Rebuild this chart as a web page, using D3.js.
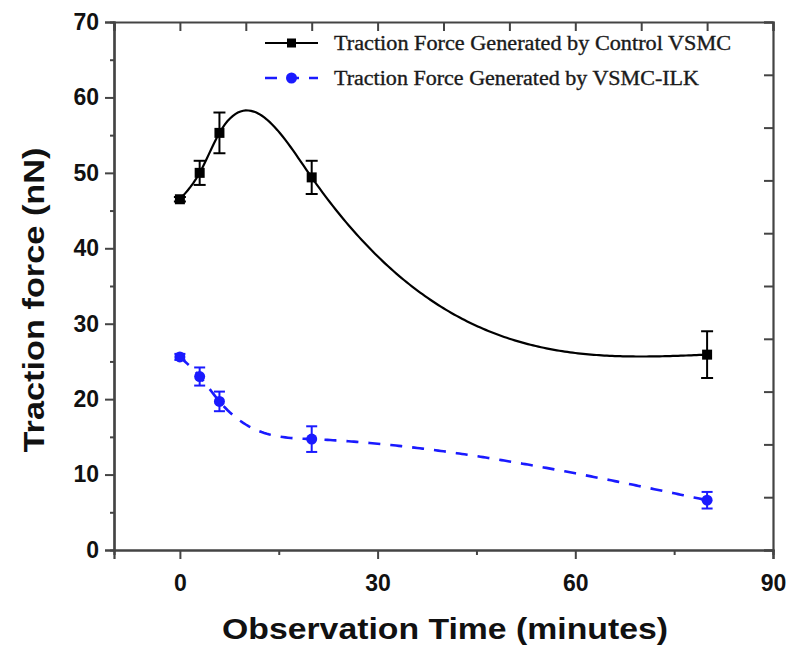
<!DOCTYPE html>
<html>
<head>
<meta charset="utf-8">
<script src="https://cdn.jsdelivr.net/npm/d3@7"></script>
<style>
  body { margin: 0; background: #fff; }
  .tick text { font-family: "Liberation Sans", Arial, sans-serif; font-weight: bold; font-size: 23px; fill: #111; }
  .axisTitle { font-family: "Liberation Sans", Arial, sans-serif; font-weight: bold; font-size: 29px; fill: #111; }
  .legendText { font-family: "Liberation Serif", "Times New Roman", serif; font-size: 20px; fill: #1a1a1a; stroke: #1a1a1a; stroke-width: 0.35px; }
</style>
</head>
<body>
<div id="chart"></div>
<script>
// Data
var times = [0, 3, 6, 20, 80];
var controlForce = [46.5, 50.0, 55.3, 49.4, 25.9];
var controlErr = [0.3, 1.6, 2.7, 2.2, 3.1];
var ilkForce = [25.6, 23.0, 19.7, 14.7, 6.6];
var ilkErr = [0.4, 1.2, 1.3, 1.7, 1.1];
var seriesNames = ["Traction Force Generated by Control VSMC", "Traction Force Generated by VSMC-ILK"];
var xTicks = [0, 30, 60, 90];
var yTicks = [0, 10, 20, 30, 40, 50, 60, 70];

var svgWidth = 795;
var svgHeight = 656;
var margin = { top: 22, right: 22, bottom: 106, left: 114 };
var chartWidth = svgWidth - margin.left - margin.right;
var chartHeight = svgHeight - margin.top - margin.bottom;

var svg = d3.select("#chart")
    .append("svg")
    .attr("width", svgWidth)
    .attr("height", svgHeight);

var chartGroup = svg.append("g")
    .attr("transform", `translate(${margin.left}, ${margin.top})`);

var x = d3.scaleLinear().domain([-10, 90]).range([0, chartWidth]);
var y = d3.scaleLinear().domain([0, 70]).range([chartHeight, 0]);

var axisColor = "#444";

// minor ticks first (no labels)
chartGroup.append("g")
    .attr("transform", `translate(0, ${chartHeight})`)
    .call(d3.axisBottom(x).tickValues([15, 45, 75]).tickSize(5).tickFormat(""));
chartGroup.append("g")
    .call(d3.axisLeft(y).tickValues([5, 15, 25, 35, 45, 55, 65]).tickSize(4).tickFormat(""));

// major ticks
chartGroup.append("g")
    .attr("transform", `translate(0, ${chartHeight})`)
    .call(d3.axisBottom(x).tickValues(xTicks).tickSize(9).tickPadding(16));
chartGroup.append("g")
    .call(d3.axisLeft(y).tickValues(yTicks).tickSize(9).tickPadding(6));

// top and right mirror axes, ticks inward
chartGroup.append("g")
    .call(d3.axisBottom(x).tickValues(d3.range(-10, 91, 10)).tickSize(9).tickFormat(""));
chartGroup.append("g")
    .attr("transform", `translate(${chartWidth}, 0)`)
    .call(d3.axisLeft(y).tickValues(d3.range(0, 71, 7)).tickSize(9).tickFormat(""));

chartGroup.selectAll(".domain").attr("stroke", axisColor).attr("stroke-width", 2.2);
chartGroup.selectAll(".tick line").attr("stroke", axisColor).attr("stroke-width", 2);

// Build series rows
var controlData = times.map((t, i) => ({ t: t, v: controlForce[i], e: controlErr[i] }));
var ilkData = times.map((t, i) => ({ t: t, v: ilkForce[i], e: ilkErr[i] }));

// Natural cubic spline y(x) through the data points (as in the original plot)
function naturalSpline(xs, ys) {
    var n = xs.length;
    var h = [], d = [];
    for (var i = 0; i < n - 1; i++) {
        h.push(xs[i + 1] - xs[i]);
        d.push((ys[i + 1] - ys[i]) / h[i]);
    }
    // solve tridiagonal system for second derivatives M
    var M = new Array(n).fill(0);
    var a = [], b = [], c = [], r = [];
    for (var i = 1; i < n - 1; i++) {
        a.push(h[i - 1]);
        b.push(2 * (h[i - 1] + h[i]));
        c.push(h[i]);
        r.push(6 * (d[i] - d[i - 1]));
    }
    var m = b.length;
    for (var i = 1; i < m; i++) {
        var w = a[i] / b[i - 1];
        b[i] -= w * c[i - 1];
        r[i] -= w * r[i - 1];
    }
    var sol = new Array(m);
    sol[m - 1] = r[m - 1] / b[m - 1];
    for (var i = m - 2; i >= 0; i--) sol[i] = (r[i] - c[i] * sol[i + 1]) / b[i];
    for (var i = 0; i < m; i++) M[i + 1] = sol[i];

    return function (xv) {
        var k = 0;
        while (k < n - 2 && xv > xs[k + 1]) k++;
        var hk = h[k];
        var A = (xs[k + 1] - xv) / hk, B = (xv - xs[k]) / hk;
        return A * ys[k] + B * ys[k + 1] +
            ((A * A * A - A) * M[k] + (B * B * B - B) * M[k + 1]) * hk * hk / 6;
    };
}

function splinePath(data) {
    var f = naturalSpline(data.map(d => d.t), data.map(d => d.v));
    var t0 = data[0].t, t1 = data[data.length - 1].t;
    return d3.range(0, 201).map(k => {
        var tv = t0 + (t1 - t0) * k / 200;
        return { t: tv, v: f(tv) };
    });
}

var line = d3.line()
    .x(d => x(d.t))
    .y(d => y(d.v));

chartGroup.append("path")
    .datum(splinePath(controlData))
    .attr("d", line)
    .attr("fill", "none")
    .attr("stroke", "#000")
    .attr("stroke-width", 2.2);

chartGroup.append("path")
    .datum(splinePath(ilkData))
    .attr("d", line)
    .attr("fill", "none")
    .attr("stroke", "#1a1aff")
    .attr("stroke-width", 2.6)
    .attr("stroke-dasharray", "12,10");

function drawErrors(data, color, cap) {
    var g = chartGroup.append("g").attr("stroke", color).attr("stroke-width", 2);
    g.selectAll("line.v").data(data).join("line")
        .attr("x1", d => x(d.t)).attr("x2", d => x(d.t))
        .attr("y1", d => y(d.v + d.e)).attr("y2", d => y(d.v - d.e));
    g.selectAll("line.top").data(data).join("line")
        .attr("x1", d => x(d.t) - cap).attr("x2", d => x(d.t) + cap)
        .attr("y1", d => y(d.v + d.e)).attr("y2", d => y(d.v + d.e));
    g.selectAll("line.bot").data(data).join("line")
        .attr("x1", d => x(d.t) - cap).attr("x2", d => x(d.t) + cap)
        .attr("y1", d => y(d.v - d.e)).attr("y2", d => y(d.v - d.e));
}
drawErrors(controlData, "#000", 6);
drawErrors(ilkData, "#1a1aff", 5.5);

chartGroup.append("g")
    .selectAll("rect")
    .data(controlData)
    .join("rect")
    .attr("x", d => x(d.t) - 5)
    .attr("y", d => y(d.v) - 5)
    .attr("width", 10)
    .attr("height", 10)
    .attr("fill", "#000");

chartGroup.append("g")
    .selectAll("circle")
    .data(ilkData)
    .join("circle")
    .attr("cx", d => x(d.t))
    .attr("cy", d => y(d.v))
    .attr("r", 5.5)
    .attr("fill", "#1a1aff");

// Legend
var legend = svg.append("g").attr("transform", "translate(265, 43)");
legend.append("line").attr("x1", 0).attr("x2", 53).attr("y1", 0).attr("y2", 0)
    .attr("stroke", "#000").attr("stroke-width", 2.2);
legend.append("rect").attr("x", 22).attr("y", -4.5).attr("width", 9).attr("height", 9).attr("fill", "#000");
legend.append("text").attr("class", "legendText").attr("x", 69).attr("y", 7)
    .attr("textLength", 397).attr("lengthAdjust", "spacingAndGlyphs")
    .text(seriesNames[0]);

legend.append("line").attr("x1", 0).attr("x2", 53).attr("y1", 35).attr("y2", 35)
    .attr("stroke", "#1a1aff").attr("stroke-width", 2.6).attr("stroke-dasharray", "12,10");
legend.append("circle").attr("cx", 26.5).attr("cy", 35).attr("r", 5.5).attr("fill", "#1a1aff");
legend.append("text").attr("class", "legendText").attr("x", 69).attr("y", 42)
    .attr("textLength", 365).attr("lengthAdjust", "spacingAndGlyphs")
    .text(seriesNames[1]);

// Axis titles
svg.append("text")
    .attr("class", "axisTitle")
    .attr("text-anchor", "middle")
    .attr("textLength", 305).attr("lengthAdjust", "spacingAndGlyphs")
    .attr("transform", `translate(44, 300) rotate(-90)`)
    .text("Traction force (nN)");

svg.append("text")
    .attr("class", "axisTitle")
    .attr("text-anchor", "middle")
    .attr("textLength", 446).attr("lengthAdjust", "spacingAndGlyphs")
    .attr("x", 445)
    .attr("y", 639)
    .text("Observation Time (minutes)");
</script>
</body>
</html>
